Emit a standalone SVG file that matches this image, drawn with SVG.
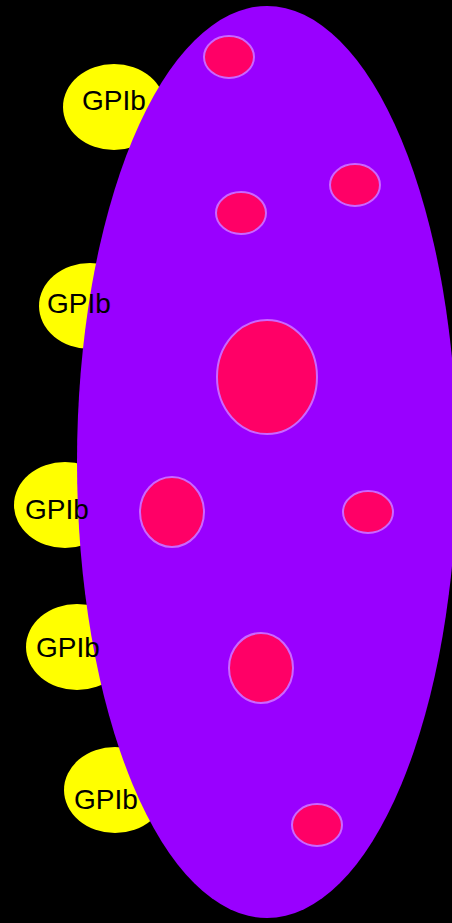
<svg xmlns="http://www.w3.org/2000/svg" width="452" height="923" viewBox="0 0 452 923">
  <style>
    .gp { fill: #ffff00; }
    .lbl { font-family: "Liberation Sans", Arial, sans-serif; font-size: 28px; fill: #000000; }
    .cell { fill: #9900ff; }
    .gran { fill: #ff0066; stroke: #cc66ff; stroke-width: 2; }
  </style>
  <rect width="452" height="923" fill="#000000"/>

  <!-- receptor bodies sit behind the platelet -->
  <g id="receptors">
    <ellipse class="gp" cx="114" cy="107" rx="51" ry="43"/>
    <ellipse class="gp" cx="90" cy="306" rx="51" ry="43"/>
    <ellipse class="gp" cx="65" cy="505" rx="51" ry="43"/>
    <ellipse class="gp" cx="77" cy="647" rx="51" ry="43"/>
    <ellipse class="gp" cx="115" cy="790" rx="51" ry="43"/>
  </g>

  <g id="platelet">
    <ellipse class="cell" cx="267" cy="462" rx="190" ry="456"/>
  </g>

  <g id="granules">
    <ellipse id="g1" class="gran" cx="229" cy="57" rx="25" ry="21"/>
    <ellipse id="g2" class="gran" cx="355" cy="185" rx="25" ry="21"/>
    <ellipse id="g3" class="gran" cx="241" cy="213" rx="25" ry="21"/>
    <ellipse id="g4" class="gran" cx="267" cy="377" rx="50" ry="57"/>
    <ellipse id="g5" class="gran" cx="172" cy="512" rx="32" ry="35"/>
    <ellipse id="g6" class="gran" cx="368" cy="512" rx="25" ry="21"/>
    <ellipse id="g7" class="gran" cx="261" cy="668" rx="32" ry="35"/>
    <ellipse id="g8" class="gran" cx="317" cy="825" rx="25" ry="21"/>
  </g>

  <!-- receptor labels drawn on top -->
  <g id="labels">
    <text class="lbl" x="82" y="110">GPIb</text>
    <text class="lbl" x="47" y="313">GPIb</text>
    <text class="lbl" x="25" y="519">GPIb</text>
    <text class="lbl" x="36" y="657">GPIb</text>
    <text class="lbl" x="74" y="809">GPIb</text>
  </g>
</svg>
